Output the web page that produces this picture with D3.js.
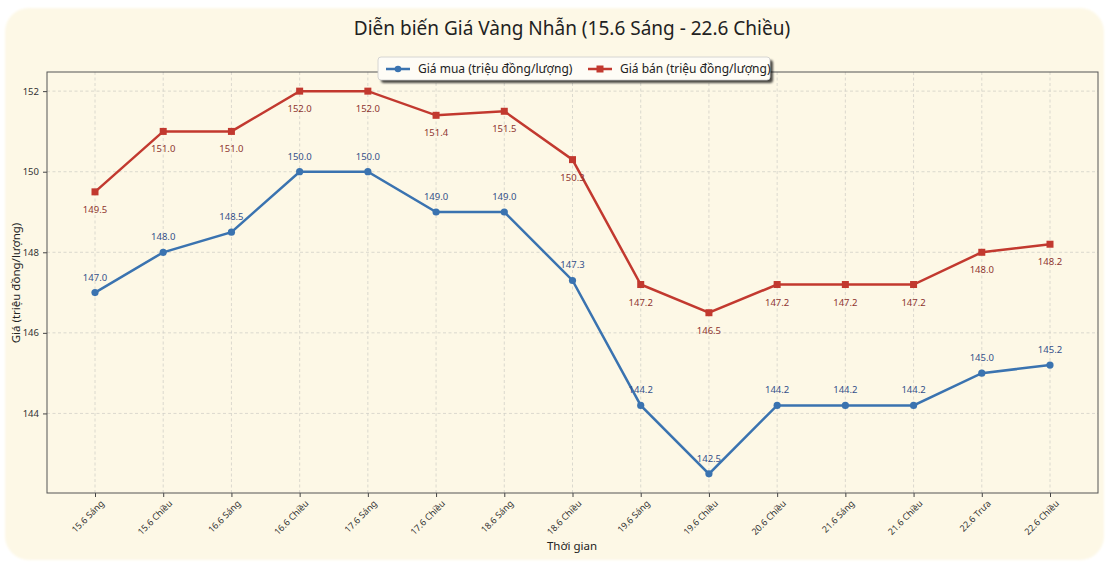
<!DOCTYPE html>
<html>
<head>
<meta charset="utf-8">
<script src="https://cdn.jsdelivr.net/npm/d3@7"></script>
<style>
  body { margin: 0; background: #ffffff; }
  svg { display: block; }
</style>
</head>
<body>
<div id="chart"></div>
<script>
// data
var categories = ["15.6 Sáng", "15.6 Chiều", "16.6 Sáng", "16.6 Chiều", "17.6 Sáng", "17.6 Chiều",
  "18.6 Sáng", "18.6 Chiều", "19.6 Sáng", "19.6 Chiều", "20.6 Chiều", "21.6 Sáng",
  "21.6 Chiều", "22.6 Trưa", "22.6 Chiều"];
var buyPrice = [147.0, 148.0, 148.5, 150.0, 150.0, 149.0, 149.0, 147.3, 144.2, 142.5, 144.2, 144.2, 144.2, 145.0, 145.2];
var sellPrice = [149.5, 151.0, 151.0, 152.0, 152.0, 151.4, 151.5, 150.3, 147.2, 146.5, 147.2, 147.2, 147.2, 148.0, 148.2];
var yTicks = [144, 146, 148, 150, 152];
var seriesNames = ["Giá mua (triệu đồng/lượng)", "Giá bán (triệu đồng/lượng)"];

var W = 1110, H = 562;
var FONT = "'Noto Sans', 'DejaVu Sans', sans-serif";
var blueCOLOR = "#3a73b0", redCOLOR = "#c2392f";
var plot = {left: 47, right: 1098, top: 72, bottom: 493};

var svg = d3.select("#chart").append("svg").attr("width", W).attr("height", H);

// soft edge for the card
var defs = svg.append("defs");
defs.append("filter").attr("id", "soft")
  .append("feGaussianBlur").attr("stdDeviation", 1.2);
var shadow = defs.append("filter").attr("id", "legshadow");
shadow.append("feGaussianBlur").attr("in", "SourceAlpha").attr("stdDeviation", 1);

svg.append("rect")
  .attr("x", 5).attr("y", 8).attr("width", 1099).attr("height", 552)
  .attr("rx", 24).attr("ry", 24)
  .attr("fill", "#fdf8e6")
  .attr("filter", "url(#soft)");

// scales
var x = d3.scalePoint().domain(categories).range([95, 1050]);
var allVals = buyPrice.concat(sellPrice);
var yMin = d3.min(allVals), yMax = d3.max(allVals), pad = (yMax - yMin) * 0.05;
var y = d3.scaleLinear().domain([yMin - pad, yMax + pad]).range([plot.bottom, plot.top]);

// grid
var grid = svg.append("g");
grid.selectAll("line.v").data(categories).enter().append("line")
  .attr("x1", function(d){ return x(d); }).attr("x2", function(d){ return x(d); })
  .attr("y1", plot.top).attr("y2", plot.bottom)
  .attr("stroke", "#d2d0c8").attr("stroke-width", 0.8).attr("stroke-dasharray", "3,2.5");
grid.selectAll("line.h").data(yTicks).enter().append("line")
  .attr("x1", plot.left).attr("x2", plot.right)
  .attr("y1", function(d){ return y(d); }).attr("y2", function(d){ return y(d); })
  .attr("stroke", "#d2d0c8").attr("stroke-width", 0.8).attr("stroke-dasharray", "3,2.5");

// axes
var xAxis = svg.append("g").attr("transform", "translate(0," + plot.bottom + ")")
  .call(d3.axisBottom(x).tickSize(4).tickPadding(3));
xAxis.select(".domain").remove();
xAxis.selectAll("line").attr("stroke", "#444");
xAxis.selectAll("text")
  .attr("font-family", FONT).attr("font-size", 9).attr("fill", "#333")
  .attr("text-anchor", "end")
  .attr("transform", "translate(2,4) rotate(-45)")
  .attr("dy", "0.35em");

var yAxis = svg.append("g").attr("transform", "translate(" + plot.left + ",0)")
  .call(d3.axisLeft(y).tickValues(yTicks).tickSize(4).tickPadding(4).tickFormat(d3.format("d")));
yAxis.select(".domain").remove();
yAxis.selectAll("line").attr("stroke", "#444");
yAxis.selectAll("text").attr("font-family", FONT).attr("font-size", 9.5).attr("fill", "#333");

svg.append("rect")
  .attr("x", plot.left).attr("y", plot.top)
  .attr("width", plot.right - plot.left).attr("height", plot.bottom - plot.top)
  .attr("fill", "none").attr("stroke", "#555").attr("stroke-width", 1);

// lines
var line = d3.line().x(function(d, i){ return x(categories[i]); }).y(function(d){ return y(d); });

svg.append("path").datum(sellPrice).attr("d", line)
  .attr("fill", "none").attr("stroke", redCOLOR).attr("stroke-width", 2.5);
svg.append("path").datum(buyPrice).attr("d", line)
  .attr("fill", "none").attr("stroke", blueCOLOR).attr("stroke-width", 2.5);

svg.selectAll("rect.sell").data(sellPrice).enter().append("rect")
  .attr("x", function(d, i){ return x(categories[i]) - 3.5; })
  .attr("y", function(d){ return y(d) - 3.5; })
  .attr("width", 7).attr("height", 7).attr("fill", redCOLOR);
svg.selectAll("circle.buy").data(buyPrice).enter().append("circle")
  .attr("cx", function(d, i){ return x(categories[i]); })
  .attr("cy", function(d){ return y(d); })
  .attr("r", 3.6).attr("fill", blueCOLOR);

// value labels
svg.selectAll("text.buyLab").data(buyPrice).enter().append("text")
  .attr("x", function(d, i){ return x(categories[i]); })
  .attr("y", function(d){ return y(d) - 12; })
  .attr("text-anchor", "middle")
  .attr("font-family", FONT).attr("font-size", 9.5).attr("fill", "#34508a")
  .text(function(d){ return d.toFixed(1); });
svg.selectAll("text.sellLab").data(sellPrice).enter().append("text")
  .attr("x", function(d, i){ return x(categories[i]); })
  .attr("y", function(d){ return y(d) + 21; })
  .attr("text-anchor", "middle")
  .attr("font-family", FONT).attr("font-size", 9.5).attr("fill", "#8e3530")
  .text(function(d){ return d.toFixed(1); });

// titles
svg.append("text").attr("x", 572).attr("y", 35).attr("text-anchor", "middle")
  .attr("font-family", FONT).attr("font-size", 19).attr("fill", "#222")
  .text("Diễn biến Giá Vàng Nhẫn (15.6 Sáng - 22.6 Chiều)");
svg.append("text").attr("x", 572).attr("y", 550).attr("text-anchor", "middle")
  .attr("font-family", FONT).attr("font-size", 11.5).attr("fill", "#222")
  .text("Thời gian");
svg.append("text").attr("transform", "translate(20,283) rotate(-90)").attr("text-anchor", "middle")
  .attr("font-family", FONT).attr("font-size", 11.5).attr("fill", "#222")
  .text("Giá (triệu đồng/lượng)");

// legend
var leg = svg.append("g").attr("transform", "translate(378,57)");
leg.append("rect").attr("x", 3).attr("y", 3).attr("width", 392).attr("height", 23).attr("rx", 3)
  .attr("fill", "#888").attr("opacity", 0.7).attr("filter", "url(#legshadow)");
leg.append("rect").attr("width", 392).attr("height", 23).attr("rx", 3)
  .attr("fill", "#fefcf6").attr("stroke", "#ccc").attr("stroke-width", 0.8);
var legItems = [{name: seriesNames[0], color: blueCOLOR, shape: "circle", x: 2},
                {name: seriesNames[1], color: redCOLOR, shape: "square", x: 204}];
legItems.forEach(function(it){
  var g = leg.append("g").attr("transform", "translate(" + it.x + ",12)");
  g.append("line").attr("x1", 6).attr("x2", 30).attr("stroke", it.color).attr("stroke-width", 2.5);
  if (it.shape === "circle") g.append("circle").attr("cx", 18).attr("r", 3.3).attr("fill", it.color);
  else g.append("rect").attr("x", 14.5).attr("y", -3.5).attr("width", 7).attr("height", 7).attr("fill", it.color);
  g.append("text").attr("x", 38).attr("y", 4).attr("font-family", FONT).attr("font-size", 12)
    .attr("fill", "#222").text(it.name);
});
</script>
</body>
</html>
